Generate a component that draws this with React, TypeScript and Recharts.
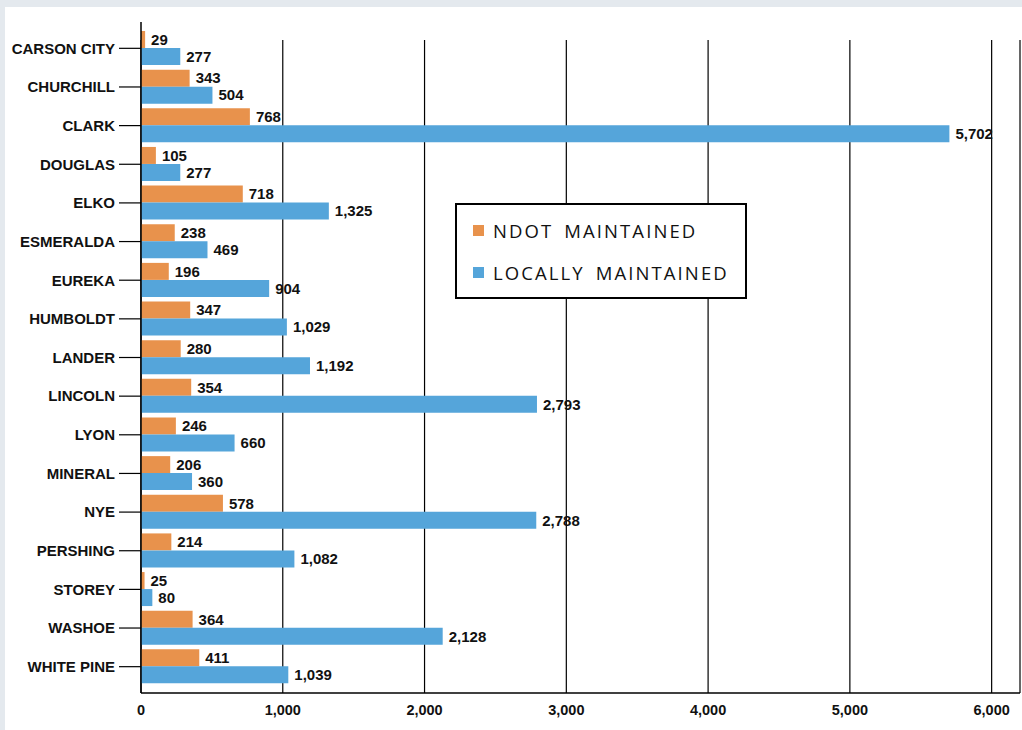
import React from "react";
import { BarChart, Bar, XAxis, YAxis, CartesianGrid, LabelList } from "recharts";

const counties = [
  "CARSON CITY",
  "CHURCHILL",
  "CLARK",
  "DOUGLAS",
  "ELKO",
  "ESMERALDA",
  "EUREKA",
  "HUMBOLDT",
  "LANDER",
  "LINCOLN",
  "LYON",
  "MINERAL",
  "NYE",
  "PERSHING",
  "STOREY",
  "WASHOE",
  "WHITE PINE",
];

const ndotMiles = [29, 343, 768, 105, 718, 238, 196, 347, 280, 354, 246, 206, 578, 214, 25, 364, 411];
const localMiles = [277, 504, 5702, 277, 1325, 469, 904, 1029, 1192, 2793, 660, 360, 2788, 1082, 80, 2128, 1039];

const xTicks = [0, 1000, 2000, 3000, 4000, 5000, 6000];

const data = counties.map((name, i) => ({
  name,
  ndot: ndotMiles[i],
  local: localMiles[i],
}));

const ORANGE = "#E8924C";
const BLUE = "#55A5DA";
const FONT = "'Liberation Sans', Arial, sans-serif";

const fmt = (v: any) => Number(v).toLocaleString("en-US");

function LegendBox() {
  const row = (color: string, text: string) => (
    <div style={{ display: "flex", alignItems: "center", height: 42 }}>
      <div style={{ width: 11, height: 11, background: color, marginRight: 9 }} />
      <span
        style={{
          fontFamily: "'Open Sans', sans-serif",
          fontSize: 18.5,
          letterSpacing: 2.1,
          wordSpacing: 4,
          color: "#111",
          whiteSpace: "nowrap",
        }}
      >
        {text}
      </span>
    </div>
  );
  return (
    <div
      style={{
        position: "absolute",
        left: 455,
        top: 203,
        border: "2px solid #000",
        background: "#fff",
        width: 292,
        height: 96,
        boxSizing: "border-box",
        padding: "4px 0 0 16px",
      }}
    >
      {row(ORANGE, "NDOT MAINTAINED")}
      {row(BLUE, "LOCALLY MAINTAINED")}
    </div>
  );
}

export default function App() {
  return (
    <div style={{ position: "fixed", left: 0, top: 0, width: 1022, height: 730, background: "#e4e9ee" }}>
      <div style={{ position: "absolute", left: 5, top: 7, right: 0, bottom: 0, background: "#fff" }} />
      <div style={{ position: "absolute", left: 0, top: 0 }}>
        <BarChart
          width={1022}
          height={730}
          data={data}
          layout="vertical"
          margin={{ top: 22, right: 2, left: 0, bottom: 7 }}
          barGap={0}
          barCategoryGap={2}
        >
          <CartesianGrid horizontal={false} stroke="#000" strokeWidth={1.2} y={40} height={653} />
          <XAxis
            type="number"
            domain={[0, 6200]}
            ticks={xTicks}
            tickFormatter={fmt}
            axisLine={{ stroke: "#000", strokeWidth: 1.5 }}
            tickLine={false}
            height={30}
            tickMargin={6}
            tick={{ fontSize: 14.5, fontWeight: "bold", fill: "#111", fontFamily: FONT }}
          />
          <YAxis
            type="category"
            dataKey="name"
            width={141}
            padding={{ top: 7, bottom: 7 }}
            axisLine={{ stroke: "#000", strokeWidth: 1.5 }}
            tickLine={{ stroke: "#000", strokeWidth: 1.2 }}
            tickSize={22}
            tickMargin={4}
            tick={{ fontSize: 15, fontWeight: "bold", fill: "#111", fontFamily: FONT }}
          />
          <Bar dataKey="ndot" name="NDOT MAINTAINED" fill={ORANGE} barSize={17} isAnimationActive={false}>
            <LabelList
              dataKey="ndot"
              position="right"
              offset={6}
              formatter={fmt}
              style={{ fontSize: 15, fontWeight: "bold", fill: "#111", fontFamily: FONT }}
            />
          </Bar>
          <Bar dataKey="local" name="LOCALLY MAINTAINED" fill={BLUE} barSize={17} isAnimationActive={false}>
            <LabelList
              dataKey="local"
              position="right"
              offset={6}
              formatter={fmt}
              style={{ fontSize: 15, fontWeight: "bold", fill: "#111", fontFamily: FONT }}
            />
          </Bar>
        </BarChart>
      </div>
      <LegendBox />
    </div>
  );
}
